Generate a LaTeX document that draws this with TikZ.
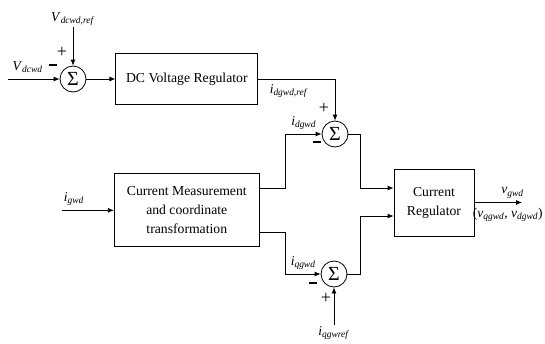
\documentclass[tikz,border=0pt]{standalone}
\usepackage{fontspec}
\setmainfont{Liberation Serif}
\usetikzlibrary{arrows.meta,positioning}
\newcommand{\sig}[2]{\textit{#1}\textsubscript{\textit{#2}}}
\newcommand{\minussign}{\rule[2.5pt]{8pt}{1.8pt}}
\tikzset{
  blockbox/.style={
    rectangle, draw, line width=0.8pt,
    align=center, inner sep=2pt,
    font=\fontsize{13.7}{19}\selectfont
  },
  sumnode/.style={
    circle, draw, line width=0.8pt,
    minimum size=26pt, inner sep=0pt,
    font=\fontsize{20}{20}\selectfont
  },
  sigarrow/.style={
    -{Latex[length=6pt,width=5pt]}, line width=0.8pt
  },
  labelnode/.style={
    font=\fontsize{13.5}{15}\selectfont, inner sep=1pt
  },
  signnode/.style={
    font=\fontsize{18}{18}\selectfont, inner sep=0pt
  },
}
\begin{document}
\begin{tikzpicture}[x=1pt, y=-1pt]
  \useasboundingbox (0,0) rectangle (545,343);

  % summing junctions
  \node[sumnode] (sum1) at (73,79) {Σ};
  \node[sumnode] (sum2) at (335,134) {Σ};
  \node[sumnode] (sum3) at (334,274) {Σ};

  % blocks
  \node[blockbox, minimum width=142pt, minimum height=51pt, right=29pt of sum1]
    (dcvr) {DC Voltage Regulator};
  \node[blockbox, minimum width=145pt, minimum height=73pt, below=68.5pt of dcvr]
    (cmt) {Current Measurement\\and coordinate\\transformation};
  \node[blockbox, minimum width=80pt, minimum height=67pt] (creg) at (434,202.5)
    {Current\\Regulator};

  % free ends
  \coordinate (dcin) at (8,79);
  \coordinate (dcref) at (73,27);
  \coordinate (iin) at (cmt.west -| 62,0);
  \coordinate (qref) at (334,325);
  \coordinate (vout) at (522,202.5);

  % outer loop
  \draw[sigarrow] (dcin) -- (sum1.west)
    node[pos=0.38, above=5pt, labelnode] (lvdc) {\sig{V}{dcwd}};
  \draw[sigarrow] (dcref) -- (sum1.north);
  \node[labelnode, above=0pt of dcref] (lvref) {\sig{V}{dcwd,ref}};
  \draw[sigarrow] (sum1.east) -- (dcvr.west);
  \draw[sigarrow] (dcvr.east) -| (sum2.north)
    node[pos=0.2, below=4pt, labelnode] (lidref) {\sig{i}{dgwd,ref}};

  % measurement
  \draw[sigarrow] (iin) -- (cmt.west)
    node[pos=0.23, above=3pt, labelnode] (ligwd) {\sig{i}{gwd}};
  \draw[sigarrow] ([yshift=21.5pt]cmt.east) -- ++(26,0) |- (sum2.west)
    node[pos=0.75, above=3pt, labelnode] (lid) {\sig{i}{dgwd}};
  \draw[sigarrow] ([yshift=-22.5pt]cmt.east) -- ++(26,0) |- (sum3.west)
    node[pos=0.75, above=3pt, labelnode] (liq) {\sig{i}{qgwd}};
  \draw[sigarrow] (qref) -- (sum3.south);
  \node[labelnode, below=0pt of qref] (liqref) {\sig{i}{qgwref}};

  % inner loop
  \draw[sigarrow] (sum2.east) -- ++(12,0) |- ([yshift=14.5pt]creg.west);
  \draw[sigarrow] (sum3.east) -- ++(13,0) |- ([yshift=-13.5pt]creg.west);
  \draw[sigarrow] (creg.east) -- (vout)
    node[pos=0.8, above=3pt, labelnode] (lvg) {\sig{v}{gwd}}
    node[pos=0.7, below=4pt, labelnode] (lvqd) {(\sig{v}{qgwd}, \sig{v}{dgwd})};

  % signs
  \node[signnode] (s1p) at ([shift={(-11,-27)}]sum1) {+};
  \node[signnode] (s1m) at ([shift={(-20,-13)}]sum1) {\minussign};
  \node[signnode] (s2p) at ([shift={(-11,-26)}]sum2) {+};
  \node[signnode] (s2m) at ([shift={(-18,9)}]sum2) {\minussign};
  \node[signnode] (s3m) at ([shift={(-21,10)}]sum3) {\minussign};
  \node[signnode] (s3p) at ([shift={(-8,24)}]sum3) {+};
\end{tikzpicture}
\end{document}
